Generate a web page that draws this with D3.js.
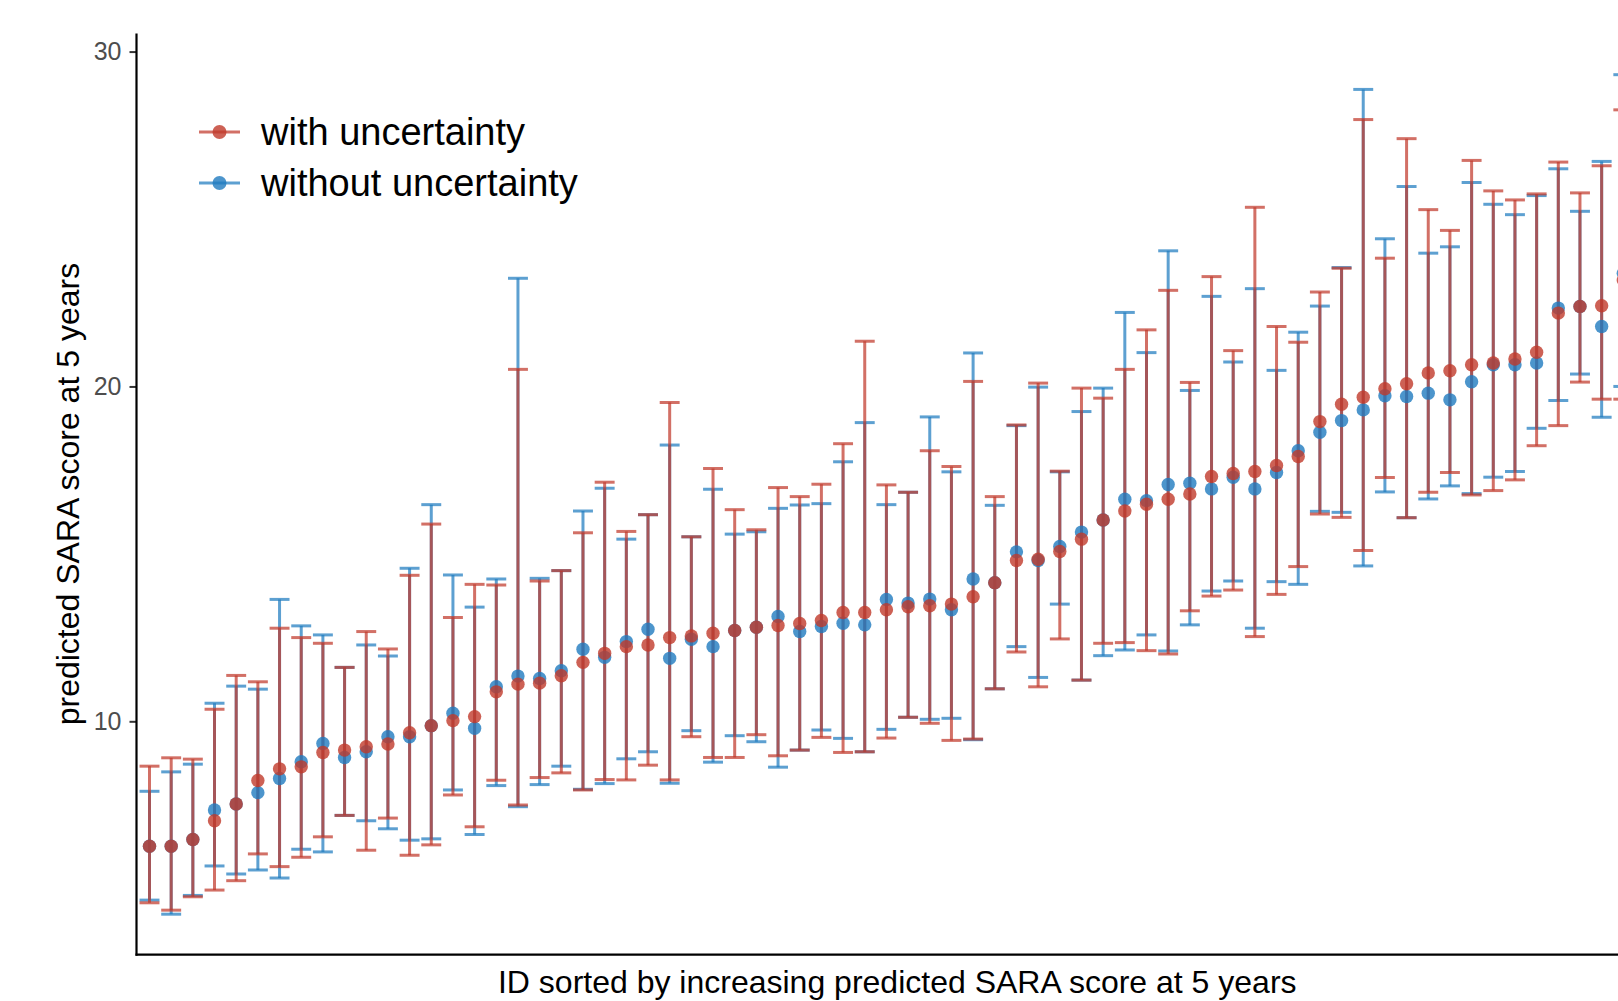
<!DOCTYPE html>
<meta charset="utf-8">
<script src="https://d3js.org/d3.v7.min.js"></script>
<style>
  body { margin: 0; background: #fff; }
  text { font-family: "Liberation Sans", Arial, sans-serif; }
</style>
<div id="my_dataviz"></div>
<script>

// IDs (sorted by increasing predicted SARA score)
var ids = d3.range(1, 70);

// with uncertainty: point estimate, lower and upper bound
var withMid = [6.27, 6.27, 6.47, 7.03, 7.53, 8.23, 8.58, 8.64, 9.07, 9.14,
  9.24, 9.32, 9.66, 9.87, 10.02, 10.14, 10.88, 11.11, 11.14, 11.36,
  11.76, 12.03, 12.23, 12.28, 12.50, 12.55, 12.63, 12.71, 12.81, 12.86,
  12.92, 13.01, 13.25, 13.25, 13.33, 13.42, 13.45, 13.50, 13.72, 14.14,
  14.80, 14.84, 15.07, 15.44, 16.01, 16.28, 16.48, 16.63, 16.79, 17.31,
  17.40, 17.46, 17.64, 17.91, 18.95, 19.47, 19.68, 19.93, 20.08, 20.40,
  20.47, 20.65, 20.70, 20.82, 21.02, 22.19, 22.39, 22.41, 23.18];
var withLo = [4.58, 4.36, 4.76, 4.96, 5.24, 6.04, 5.66, 5.94, 6.55, 7.19,
  6.15, 7.11, 6.00, 6.31, 7.80, 6.85, 8.24, 7.50, 8.32, 8.46,
  7.95, 8.26, 8.25, 8.69, 8.25, 9.54, 8.92, 8.92, 9.60, 8.97,
  9.14, 9.52, 9.07, 9.09, 9.50, 10.12, 9.94, 9.43, 9.47, 10.97,
  12.07, 11.03, 12.46, 11.23, 12.33, 12.35, 12.11, 12.01, 13.30, 13.74,
  13.92, 12.53, 13.79, 14.62, 16.19, 16.09, 15.10, 17.28, 16.08, 16.84,
  17.43, 16.76, 16.89, 17.21, 18.23, 18.83, 20.13, 19.62, 19.62];
var withHi = [8.66, 8.91, 8.87, 10.36, 11.37, 11.18, 12.78, 12.50, 12.33, 11.61,
  12.68, 12.16, 14.36, 15.89, 13.10, 14.09, 14.07, 20.51, 14.19, 14.50,
  15.63, 17.14, 15.67, 16.17, 19.52, 15.51, 17.55, 16.32, 15.72, 16.98,
  16.71, 17.08, 18.29, 21.35, 17.06, 16.84, 18.08, 17.61, 20.15, 16.71,
  18.85, 20.10, 17.47, 19.95, 19.65, 20.51, 21.69, 22.87, 20.12, 23.28,
  21.07, 25.35, 21.79, 21.32, 22.82, 23.53, 27.97, 23.83, 27.40, 25.28,
  24.66, 26.75, 25.84, 25.57, 25.75, 26.70, 25.78, 26.59, 28.26];

// without uncertainty: point estimate, lower and upper bound
var withoutMid = [6.27, 6.27, 6.47, 7.35, 7.53, 7.87, 8.29, 8.79, 9.34, 8.92,
  9.09, 9.54, 9.54, 9.87, 10.24, 9.79, 11.03, 11.35, 11.28, 11.51,
  12.15, 11.91, 12.38, 12.75, 11.88, 12.45, 12.23, 12.71, 12.81, 13.13,
  12.68, 12.83, 12.93, 12.88, 13.64, 13.53, 13.65, 13.33, 14.25, 14.14,
  15.06, 14.80, 15.22, 15.65, 16.01, 16.63, 16.59, 17.07, 17.11, 16.94,
  17.29, 16.94, 17.43, 18.08, 18.63, 18.98, 19.30, 19.72, 19.70, 19.80,
  19.60, 20.14, 20.65, 20.65, 20.70, 22.34, 22.39, 21.79, 23.38];
var withoutLo = [4.66, 4.24, 4.80, 5.68, 5.44, 5.56, 5.32, 6.18, 6.10, 7.19,
  7.03, 6.79, 6.45, 6.49, 7.95, 6.62, 8.08, 7.45, 8.11, 8.66,
  7.97, 8.14, 8.88, 9.09, 8.15, 9.72, 8.78, 9.57, 9.39, 8.63,
  9.14, 9.74, 9.49, 9.09, 9.76, 10.12, 10.06, 10.09, 9.45, 10.97,
  12.23, 11.31, 13.50, 11.23, 11.96, 12.13, 12.58, 12.10, 12.88, 13.89,
  14.19, 12.78, 14.17, 14.09, 16.27, 16.24, 14.64, 16.85, 16.08, 16.64,
  17.03, 16.80, 17.29, 17.46, 18.75, 19.58, 20.37, 19.08, 20.00];
var withoutHi = [7.91, 8.49, 8.72, 10.54, 11.05, 10.96, 13.64, 12.85, 12.58, 11.61,
  12.28, 11.95, 14.57, 16.47, 14.37, 13.41, 14.25, 23.23, 14.27, 14.50,
  16.28, 16.96, 15.44, 16.17, 18.25, 15.51, 16.93, 15.59, 15.66, 16.36,
  16.46, 16.50, 17.75, 18.92, 16.47, 16.84, 19.09, 17.45, 21.00, 16.45,
  18.83, 19.98, 17.45, 19.25, 19.95, 22.21, 21.01, 24.05, 19.88, 22.69,
  20.73, 22.92, 20.48, 21.62, 22.40, 23.55, 28.87, 24.41, 25.97, 23.98,
  24.17, 26.09, 25.44, 25.13, 25.70, 26.50, 25.23, 26.72, 29.31];

var yTicks = [10, 20, 30];
var seriesNames = ["with uncertainty", "without uncertainty"];
var seriesColors = ["#C0392B", "#1F7BBF"];

var width = 1618, height = 1001;

var svg = d3.select("#my_dataviz")
  .append("svg")
    .attr("width", width)
    .attr("height", height);

// x: one slot per ID, the panel runs past the right edge of the picture
var x = d3.scaleLinear()
  .domain([0.4, 70.6])
  .range([136.5, 1658]);

var y = d3.scaleLinear()
  .domain([3.03, 30.54])
  .range([954.7, 33.5]);

// Y axis
var yAxis = svg.append("g")
  .attr("transform", "translate(" + x.range()[0] + ",0)")
  .call(d3.axisLeft(y).tickValues(yTicks).tickSize(7).tickPadding(8));
yAxis.select(".domain").remove();
yAxis.selectAll(".tick line").attr("stroke", "#333").attr("stroke-width", 2);
yAxis.selectAll(".tick text")
  .attr("fill", "#4d4d4d")
  .style("font-size", "25px")
  .style("font-family", "'Liberation Sans', Arial, sans-serif");

// axis lines
svg.append("line")
  .attr("x1", x.range()[0]).attr("x2", x.range()[0])
  .attr("y1", y.range()[1]).attr("y2", y.range()[0] + 1)
  .attr("stroke", "#000").attr("stroke-width", 2.2);
svg.append("line")
  .attr("x1", x.range()[0] - 1).attr("x2", x.range()[1])
  .attr("y1", y.range()[0]).attr("y2", y.range()[0])
  .attr("stroke", "#000").attr("stroke-width", 2.2);

// build rows from the arrays
var series = [
  { name: seriesNames[1], color: seriesColors[1],
    rows: ids.map(function(id, i) { return { id: id, mid: withoutMid[i], lo: withoutLo[i], hi: withoutHi[i] }; }) },
  { name: seriesNames[0], color: seriesColors[0],
    rows: ids.map(function(id, i) { return { id: id, mid: withMid[i], lo: withLo[i], hi: withHi[i] }; }) }
];

var capHalf = 0.46;
var alpha = 0.72;

// error bars (blue first, red on top)
series.forEach(function(s) {
  var g = svg.append("g")
    .attr("stroke", s.color)
    .attr("stroke-opacity", alpha)
    .attr("stroke-width", 3);
  g.selectAll("line.v")
    .data(s.rows).enter().append("line")
    .attr("x1", function(d) { return x(d.id); })
    .attr("x2", function(d) { return x(d.id); })
    .attr("y1", function(d) { return y(d.lo); })
    .attr("y2", function(d) { return y(d.hi); });
  g.selectAll("line.lo")
    .data(s.rows).enter().append("line")
    .attr("x1", function(d) { return x(d.id - capHalf); })
    .attr("x2", function(d) { return x(d.id + capHalf); })
    .attr("y1", function(d) { return y(d.lo); })
    .attr("y2", function(d) { return y(d.lo); });
  g.selectAll("line.hi")
    .data(s.rows).enter().append("line")
    .attr("x1", function(d) { return x(d.id - capHalf); })
    .attr("x2", function(d) { return x(d.id + capHalf); })
    .attr("y1", function(d) { return y(d.hi); })
    .attr("y2", function(d) { return y(d.hi); });
});

// points
series.forEach(function(s) {
  svg.append("g")
    .selectAll("circle")
    .data(s.rows).enter().append("circle")
    .attr("cx", function(d) { return x(d.id); })
    .attr("cy", function(d) { return y(d.mid); })
    .attr("r", 6.7)
    .attr("fill", s.color)
    .attr("fill-opacity", 0.8);
});

// axis titles
svg.append("text")
  .attr("transform", "translate(79," + ((y.range()[0] + y.range()[1]) / 2) + ")rotate(-90)")
  .attr("text-anchor", "middle")
  .style("font-size", "32px")
  .text("predicted SARA score at 5 years");

svg.append("text")
  .attr("x", (x.range()[0] + x.range()[1]) / 2)
  .attr("y", 993)
  .attr("text-anchor", "middle")
  .style("font-size", "32px")
  .text("ID sorted by increasing predicted SARA score at 5 years");

// legend
var legend = svg.append("g").attr("transform", "translate(199,132)");
seriesNames.forEach(function(name, i) {
  var row = legend.append("g").attr("transform", "translate(0," + (i * 51) + ")");
  row.append("line")
    .attr("x1", 0).attr("x2", 41)
    .attr("stroke", seriesColors[i]).attr("stroke-opacity", alpha)
    .attr("stroke-width", 3.2);
  row.append("circle")
    .attr("cx", 20.5).attr("r", 7)
    .attr("fill", seriesColors[i]).attr("fill-opacity", 0.8);
  row.append("text")
    .attr("x", 62).attr("y", 13)
    .style("font-size", "38px")
    .text(name);
});

</script>
